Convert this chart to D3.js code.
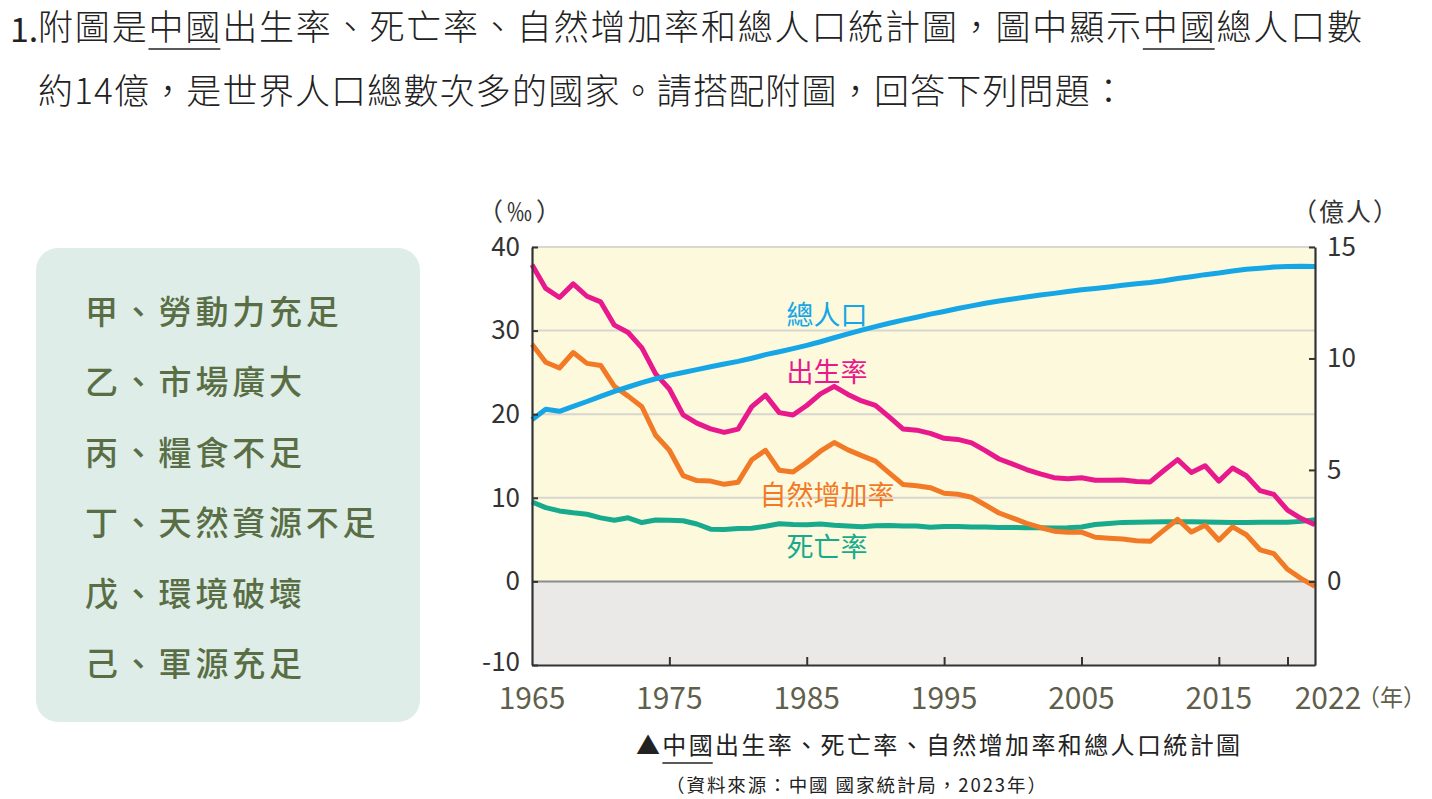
<!DOCTYPE html>
<html>
<head>
<meta charset="utf-8">
<script src="https://cdn.jsdelivr.net/npm/d3@7"></script>
<style>
  body { margin: 0; background: #fff; }
  svg { display: block; }
  text { font-family: "Noto Sans CJK TC", "Noto Sans", sans-serif; }
</style>
</head>
<body>
<svg id="chart" width="1432" height="799"></svg>
<script>
// years 1965 - 2022
var years = d3.range(1965, 2023);

// 出生率 (‰)
var birthRate = [37.88, 35.05, 33.96, 35.59, 34.11, 33.43, 30.65, 29.77, 27.93, 24.82,
  23.01, 19.91, 18.93, 18.25, 17.82, 18.21, 20.91, 22.28, 20.19, 19.90,
  21.04, 22.43, 23.33, 22.37, 21.58, 21.06, 19.68, 18.24, 18.09, 17.70,
  17.12, 16.98, 16.57, 15.64, 14.64, 14.03, 13.38, 12.86, 12.41, 12.29,
  12.40, 12.09, 12.10, 12.14, 11.95, 11.90, 13.27, 14.57, 13.03, 13.83,
  11.99, 13.57, 12.64, 10.86, 10.41, 8.52, 7.52, 6.77];

// 死亡率 (‰)
var deathRate = [9.50, 8.83, 8.43, 8.21, 8.03, 7.60, 7.32, 7.61, 7.04, 7.34,
  7.32, 7.25, 6.87, 6.25, 6.21, 6.34, 6.36, 6.60, 6.90, 6.82,
  6.78, 6.86, 6.72, 6.64, 6.54, 6.67, 6.70, 6.64, 6.64, 6.49,
  6.57, 6.56, 6.51, 6.50, 6.46, 6.45, 6.43, 6.41, 6.40, 6.42,
  6.51, 6.81, 6.93, 7.06, 7.08, 7.11, 7.14, 7.13, 7.13, 7.12,
  7.07, 7.04, 7.06, 7.08, 7.09, 7.07, 7.18, 7.37];

// 自然增加率 (‰)
var growthRate = [28.38, 26.22, 25.53, 27.38, 26.08, 25.83, 23.33, 22.16, 20.89, 17.48,
  15.69, 12.66, 12.06, 12.00, 11.61, 11.87, 14.55, 15.68, 13.29, 13.08,
  14.26, 15.57, 16.61, 15.73, 15.04, 14.39, 12.98, 11.60, 11.45, 11.21,
  10.55, 10.42, 10.06, 9.14, 8.18, 7.58, 6.95, 6.45, 6.01, 5.87,
  5.89, 5.28, 5.17, 5.08, 4.87, 4.79, 6.13, 7.43, 5.90, 6.71,
  4.93, 6.53, 5.58, 3.78, 3.32, 1.45, 0.34, -0.60];

// 總人口 (億人)
var population = [7.25, 7.72, 7.63, 7.85, 8.07, 8.30, 8.52, 8.72, 8.92, 9.09,
  9.24, 9.37, 9.50, 9.63, 9.75, 9.87, 10.01, 10.17, 10.30, 10.44,
  10.59, 10.75, 10.93, 11.10, 11.27, 11.43, 11.58, 11.72, 11.85, 11.99,
  12.11, 12.24, 12.36, 12.48, 12.58, 12.67, 12.76, 12.85, 12.92, 13.00,
  13.08, 13.14, 13.21, 13.28, 13.35, 13.41, 13.49, 13.59, 13.67, 13.76,
  13.83, 13.92, 14.00, 14.05, 14.10, 14.13, 14.14, 14.12];

var leftTicks = [-10, 0, 10, 20, 30, 40];
var rightTicks = [0, 5, 10, 15];
var xTickYears = [1975, 1985, 1995, 2005, 2015, 2020];
var xLabelYears = [1965, 1975, 1985, 1995, 2005, 2015, 2022];

var options = ["甲、勞動力充足", "乙、市場廣大", "丙、糧食不足", "丁、天然資源不足", "戊、環境破壞", "己、軍源充足"];

var svg = d3.select("#chart");

var x = d3.scaleLinear().domain([1965, 2022]).range([532, 1315]);
var yL = d3.scaleLinear().domain([-10, 40]).range([665, 247]);
var yR = d3.scaleLinear().domain([-3.75, 15]).range([665, 247]);

// underline two chars of a text (uses glyph positions, so textLength is respected)
function underline(t, i, y) {
  var n = t.node();
  var x0 = n.getStartPositionOfChar(i).x;
  var x1 = n.getEndPositionOfChar(i + 1).x;
  svg.append("line").attr("x1", x0).attr("x2", x1)
    .attr("y1", y).attr("y2", y)
    .attr("stroke", "#222").attr("stroke-width", 1.5);
}

// ---- question text ----
svg.append("text").attr("x", 10).attr("y", 42).attr("font-size", 34)
  .attr("font-family", "Liberation Serif").attr("fill", "#222").text("1.");
var l1 = svg.append("text").attr("x", 38).attr("y", 40)
  .attr("font-size", 35).attr("font-weight", 300).attr("fill", "#222")
  .attr("textLength", 1324).attr("lengthAdjust", "spacing")
  .text("附圖是中國出生率、死亡率、自然增加率和總人口統計圖，圖中顯示中國總人口數");
underline(l1, 3, 49);
underline(l1, 30, 49);
svg.append("text").attr("x", 38).attr("y", 104)
  .attr("font-size", 35).attr("font-weight", 300).attr("fill", "#222")
  .attr("textLength", 1088).attr("lengthAdjust", "spacing")
  .text("約14億，是世界人口總數次多的國家。請搭配附圖，回答下列問題：");

// ---- options box ----
svg.append("rect").attr("x", 36).attr("y", 248).attr("width", 384).attr("height", 474)
  .attr("rx", 22).attr("fill", "#deede7");
svg.selectAll("text.opt").data(options).enter().append("text")
  .attr("class", "opt")
  .attr("x", 85)
  .attr("y", function (d, i) { return 310 + i * 70.4; })
  .attr("dominant-baseline", "central")
  .attr("font-size", 33)
  .attr("letter-spacing", 3.8)
  .attr("font-weight", 500)
  .attr("fill", "#5a6e45")
  .text(function (d) { return d; });

// ---- plot background ----
var g = svg.append("g");
g.append("rect").attr("x", x(1965)).attr("y", yL(40))
  .attr("width", x(2022) - x(1965)).attr("height", yL(0) - yL(40)).attr("fill", "#fcf9dc");
g.append("rect").attr("x", x(1965)).attr("y", yL(0))
  .attr("width", x(2022) - x(1965)).attr("height", yL(-10) - yL(0)).attr("fill", "#ebe9e8");

g.selectAll("line.grid").data([10, 20, 30, 40]).enter().append("line")
  .attr("x1", x(1965)).attr("x2", x(2022))
  .attr("y1", function (d) { return yL(d); }).attr("y2", function (d) { return yL(d); })
  .attr("stroke", "#d8d6cf").attr("stroke-width", 2);
g.append("line").attr("x1", x(1965)).attr("x2", x(2022))
  .attr("y1", yL(0)).attr("y2", yL(0))
  .attr("stroke", "#8c8c8c").attr("stroke-width", 2);

// ---- lines ----
function drawLine(vals, scale, color) {
  var line = d3.line()
    .x(function (d, i) { return x(years[i]); })
    .y(function (d) { return scale(d); });
  g.append("path").datum(vals)
    .attr("fill", "none").attr("stroke", color)
    .attr("stroke-width", 5).attr("stroke-linejoin", "round")
    .attr("d", line);
}
drawLine(deathRate, yL, "#17aa8d");
drawLine(growthRate, yL, "#f27a27");
drawLine(birthRate, yL, "#e8198c");
drawLine(population, yR, "#16a6e6");

// ---- axes ----
var axisColor = "#333";
var fmt = function (d) { return String(d); };
var leftAxis = svg.append("g").attr("transform", "translate(" + x(1965) + ",0)")
  .call(d3.axisLeft(yL).tickValues(leftTicks).tickSizeInner(-6).tickSizeOuter(0).tickFormat(fmt).tickPadding(12));
var rightAxis = svg.append("g").attr("transform", "translate(" + x(2022) + ",0)")
  .call(d3.axisRight(yR).tickValues(rightTicks).tickSizeInner(-6).tickSizeOuter(0).tickFormat(fmt).tickPadding(12));
var bottomAxis = svg.append("g").attr("transform", "translate(0," + yL(-10) + ")")
  .call(d3.axisBottom(x).tickValues(xTickYears).tickSizeInner(-8).tickSizeOuter(0).tickFormat(""));

[leftAxis, rightAxis, bottomAxis].forEach(function (a) {
  a.select(".domain").attr("stroke", axisColor).attr("stroke-width", 2.2);
  a.selectAll(".tick line").attr("stroke", axisColor).attr("stroke-width", 2);
  a.selectAll(".tick text").attr("font-size", 26).attr("fill", "#333")
    .attr("font-family", "'Noto Sans', sans-serif");
});
// -10 sits a little higher so it clears the 1965 label
leftAxis.selectAll(".tick text").filter(function (d) { return d === -10; }).attr("dy", "0.2em");

// x labels
svg.selectAll("text.xl").data(xLabelYears).enter().append("text")
  .attr("class", "xl")
  .attr("x", function (d) { return d === 2022 ? x(d) + 13 : x(d); })
  .attr("y", 709)
  .attr("text-anchor", "middle")
  .attr("font-size", 30)
  .attr("font-family", "'Liberation Sans Narrow', 'Liberation Sans', sans-serif")
  .attr("fill", "#5f5f4c")
  .text(function (d) { return d; });
svg.append("text").attr("x", 1357).attr("y", 706).attr("font-size", 23)
  .attr("fill", "#5f5f4c").text("（年）");

// unit labels
svg.append("text").attr("x", 478).attr("y", 221).attr("font-size", 25)
  .attr("letter-spacing", 4).attr("fill", "#333").text("（‰）");
svg.append("text").attr("x", 1292).attr("y", 221).attr("font-size", 25)
  .attr("letter-spacing", 2).attr("fill", "#333").text("（億人）");

// series labels
var seriesLabels = [
  { t: "總人口", y: 313, c: "#16a6e6" },
  { t: "出生率", y: 370, c: "#e8198c" },
  { t: "自然增加率", y: 493, c: "#f27a27" },
  { t: "死亡率", y: 545, c: "#17aa8d" }
];
svg.selectAll("text.sl").data(seriesLabels).enter().append("text")
  .attr("class", "sl")
  .attr("x", 827).attr("y", function (d) { return d.y; })
  .attr("dominant-baseline", "central").attr("text-anchor", "middle")
  .attr("font-size", 27).attr("fill", function (d) { return d.c; })
  .text(function (d) { return d.t; });

// caption
var cap = svg.append("text").attr("x", 636).attr("y", 754).attr("font-size", 24)
  .attr("textLength", 604).attr("lengthAdjust", "spacing")
  .attr("fill", "#222").text("▲中國出生率、死亡率、自然增加率和總人口統計圖");
underline(cap, 1, 763);
svg.append("text").attr("x", 666).attr("y", 792).attr("font-size", 18.5)
  .attr("textLength", 380).attr("lengthAdjust", "spacing")
  .attr("fill", "#222").text("（資料來源：中國 國家統計局，2023年）");
</script>
</body>
</html>
